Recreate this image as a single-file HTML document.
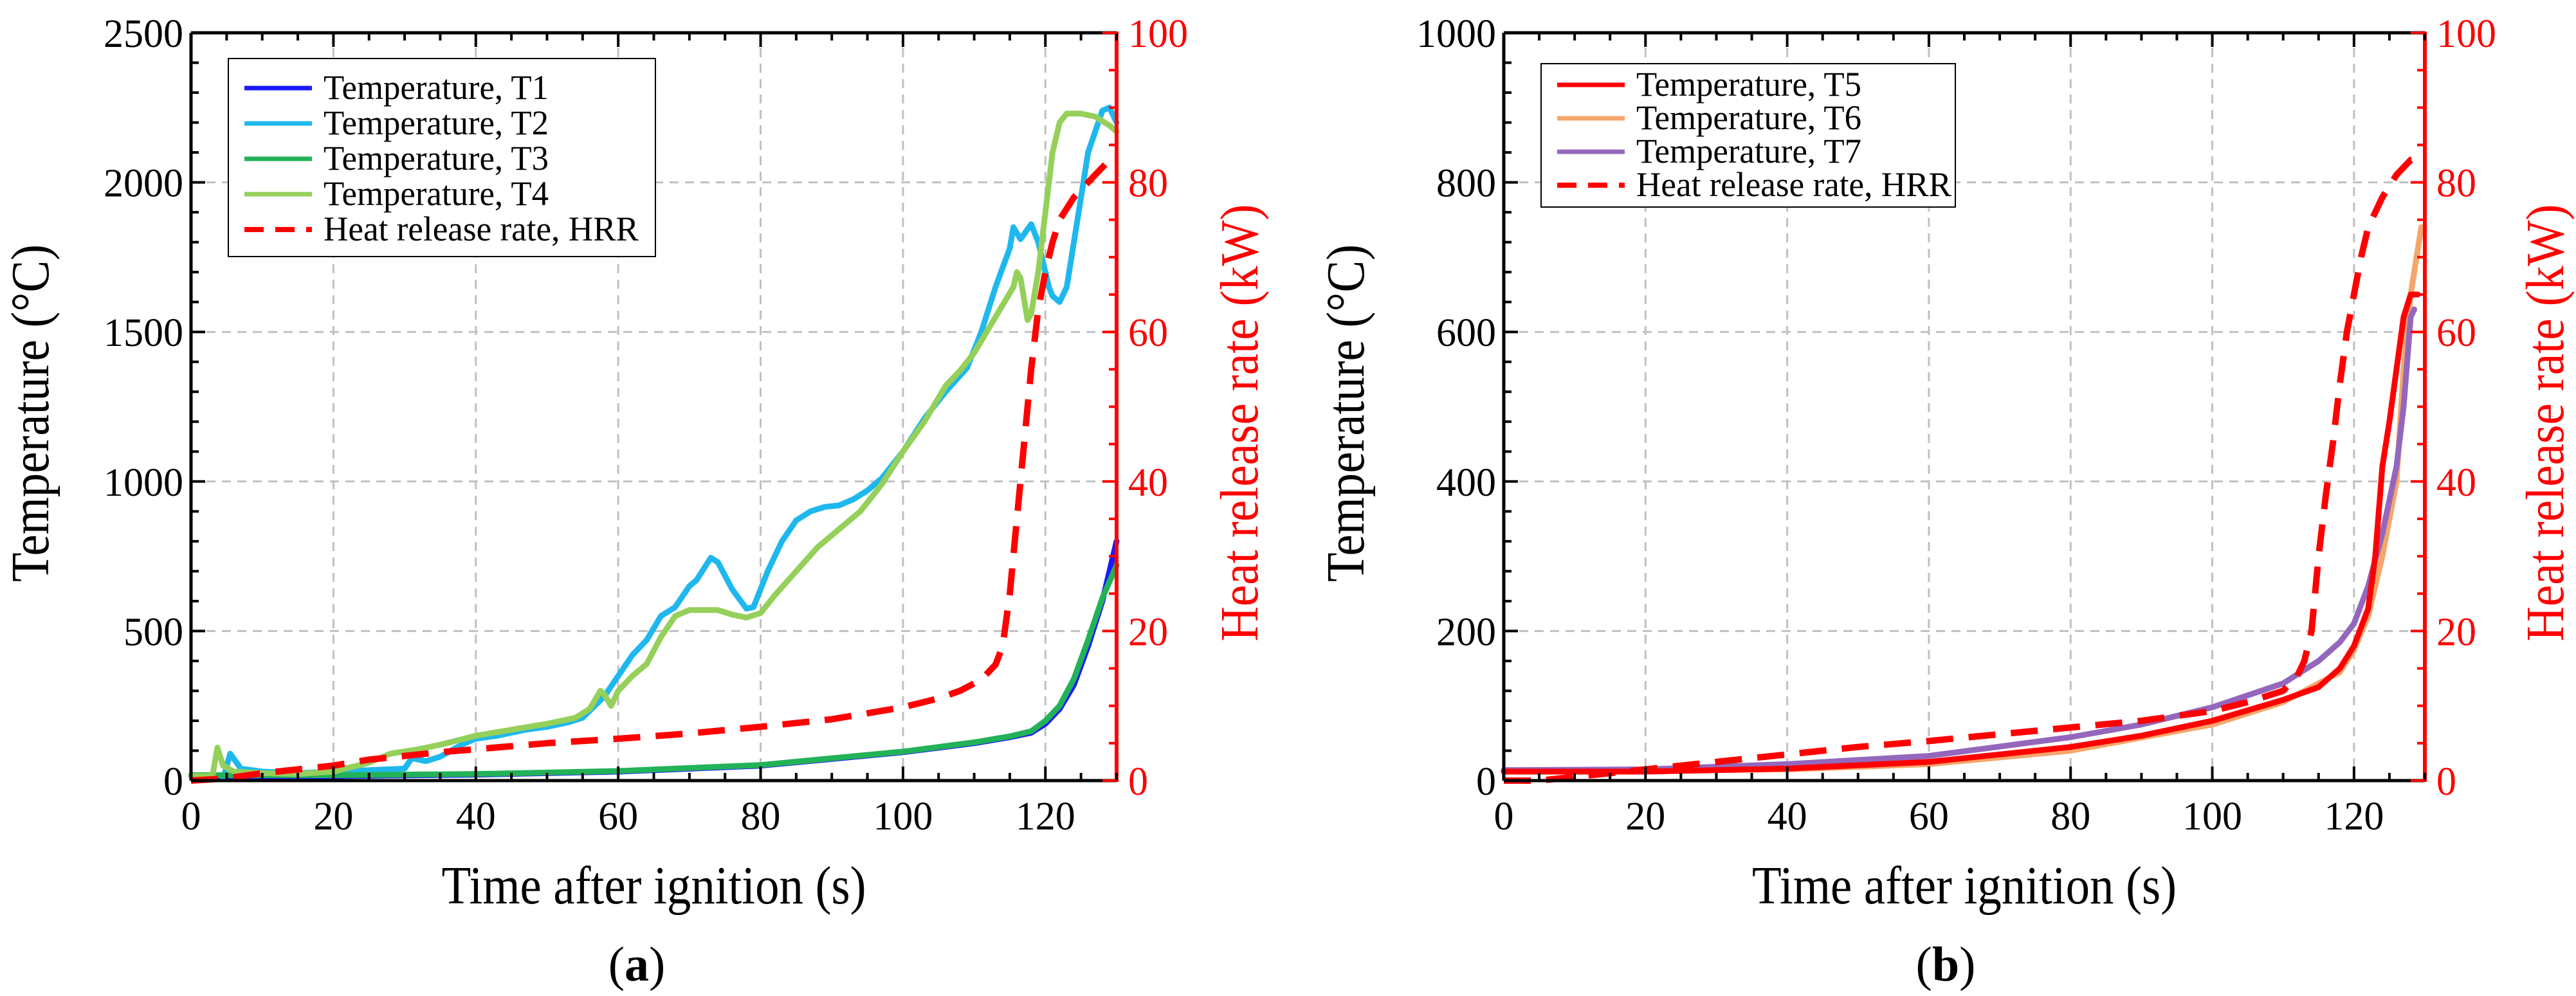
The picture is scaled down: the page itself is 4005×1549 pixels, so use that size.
<!DOCTYPE html>
<html><head><meta charset="utf-8"><style>
html,body{margin:0;padding:0;background:#fff}
svg{display:block}
svg text{font-family:"Liberation Serif","Times New Roman",Times,"Noto Serif CJK SC",serif}
</style></head><body>
<svg id="c" width="4005" height="1549" viewBox="0 0 4005 1549" xmlns="http://www.w3.org/2000/svg">
</svg>
<script>
// ---- Panel (a) data ----
const tA_T1=[0,20,40,60,80,100,110,115,118,120,122,124,126,128,130];
const vA_T1=[15,15,20,30,50,95,125,145,160,190,240,320,450,600,800];
const tA_T3=[0,20,40,60,80,100,110,115,118,120,122,124,126,128,130];
const vA_T3=[18,18,22,32,52,97,128,148,165,200,250,340,470,610,720];
const tA_T2=[4.5,5.5,7,10,15,20,25,30,31,33,35,38,40,43,47,50,53,55,58,60,62,64,66,68,70,71,73,74,76,78,79,81,83,85,87,89,91,93,95,97,100,103,106,109,111,113,115,115.5,116.5,118,119,120.5,121,122,123,124,125,126,127,128,129,130];
const vA_T2=[5,90,40,30,25,30,35,40,75,65,80,120,140,150,170,180,195,210,280,350,420,470,550,580,650,670,745,730,640,575,580,700,800,870,900,915,920,940,970,1010,1100,1210,1300,1380,1500,1650,1780,1850,1810,1860,1800,1650,1620,1600,1650,1800,1950,2100,2170,2240,2250,2200];
const tA_T4=[0,3,3.7,4.5,6,10,15,20,25,28,32,35,40,45,50,54,56,57.5,58,59,60,62,64,66,68,70,72,74,76,78,80,82,85,88,91,94,97,100,103,105,106,108,110,112,114,115.5,116,116.5,117.5,118,119,120,121,122,123,125,127,129,130];
const vA_T4=[15,15,110,50,30,25,22,30,60,90,105,120,150,170,190,210,240,300,290,250,300,350,390,480,550,570,570,570,555,545,560,620,700,780,840,900,990,1100,1200,1280,1320,1370,1430,1510,1590,1650,1700,1680,1540,1560,1700,1900,2100,2200,2230,2230,2220,2190,2170];
const tA_H=[0,5,10,15,20,25,30,35,40,50,60,70,80,90,100,105,108,111,113,114,115,116,117,118,119,120,121,122,124,126,128,129,130];
const vA_H=[0,0.3,1,1.5,2,2.8,3.3,3.8,4.2,5,5.6,6.3,7.2,8.2,9.8,11,12,13.5,15.5,18,25,35,45,55,63,68,72,75,78,80,82,83,83];
// ---- Panel (b) data ----
const tB_T5=[0,20,40,60,80,90,100,110,115,118,120,122,123,124,125,126,127,128,129];
const vB_T5=[12,12,16,25,45,60,80,108,125,150,180,230,300,420,480,550,620,650,650];
const tB_T6=[0,40,60,80,100,110,118,120,122,124,126,127,128,129.5];
const vB_T6=[12,15,22,40,75,105,145,175,220,300,400,550,650,740];
const tB_T7=[0,20,40,60,80,90,100,110,115,118,120,122,124,126,127,128,128.5];
const vB_T7=[14,15,22,33,58,75,98,130,160,185,210,260,330,420,500,620,630];
const tB_H=[0,5,10,15,20,30,40,50,60,70,80,90,100,105,110,112,113,114,115,116,117,118,119,120,121,122,124,126,128,130];
const vB_H=[0,0,0.5,1,1.5,2.5,3.5,4.5,5.3,6.2,7.1,8,9.3,10.5,12,14,16,20,30,38,45,53,60,65,70,74,78,81,83,83];
const xTicks=[0,20,40,60,80,100,120];
const yTicksA=[0,500,1000,1500,2000,2500];
const yTicksB=[0,200,400,600,800,1000];
const hTicks=[0,20,40,60,80,100];

const svg=document.getElementById('c');
const NS='http://www.w3.org/2000/svg';
const FF='"Liberation Serif","Times New Roman",Times,"Noto Serif CJK SC",serif';
function el(tag,attrs,parent){const e=document.createElementNS(NS,tag);for(const k in attrs)e.setAttribute(k,attrs[k]);(parent||svg).appendChild(e);return e;}
function txt(s,attrs,parent){const e=el('text',attrs,parent);e.style.fontFamily=FF;e.textContent=s;return e;}

function panel(cfg){
  const g=el('g',{});
  
  
  const L=cfg.x0,R=cfg.x1,T=51,B=1214;
  const sx=v=>L+(R-L)*v/130;
  const sy=v=>B-(B-T)*v/cfg.ymax;
  const sh=v=>B-(B-T)*v/100;
  const grid=el('g',{},g);
  
  
  xTicks.forEach(t=>{if(t>0)el('line',{x1:sx(t),x2:sx(t),y1:T,y2:B,stroke:'#c0c0c0','stroke-width':3,'stroke-dasharray':'14 10'},grid);});
  cfg.yt.forEach(t=>{if(t>0&&t<cfg.ymax)el('line',{x1:L,x2:R,y1:sy(t),y2:sy(t),stroke:'#c0c0c0','stroke-width':3,'stroke-dasharray':'14 10'},grid);});
  function line(ts,vs,sc,color,w,name,dash){
    const d=ts.map((t,i)=>(i?'L':'M')+sx(t).toFixed(1)+' '+sc(vs[i]).toFixed(1)).join(' ');
    const p=el('path',{d:d,fill:'none',stroke:color,'stroke-width':w,'stroke-linejoin':'round','stroke-linecap':dash?'butt':'round'},g);
    if(dash)p.setAttribute('stroke-dasharray',dash);
    
    
  }
  cfg.series.forEach(s=>line(s.t,s.v,sy,s.c,9,s.n));
  line(cfg.ht,cfg.hv,sh,'#ff0000',10,'hrr-line','42 24');
  const ax=el('g',{},g);
  
  
  el('line',{x1:L,x2:R,y1:T,y2:T,stroke:'#000','stroke-width':5},ax);
  el('line',{x1:L,x2:R,y1:B,y2:B,stroke:'#000','stroke-width':5},ax);
  el('line',{x1:L,x2:L,y1:T,y2:B,stroke:'#000','stroke-width':5},ax);
  el('line',{x1:R,x2:R,y1:T-2,y2:B+2,stroke:'#ff0000','stroke-width':6},ax);
  for(let t=0;t<=130;t+=5){const maj=t%20===0;const l=maj?22:12;
    el('line',{x1:sx(t),x2:sx(t),y1:B,y2:B-l,stroke:'#000','stroke-width':4},ax);
    el('line',{x1:sx(t),x2:sx(t),y1:T,y2:T+l,stroke:'#000','stroke-width':4},ax);}
  const ystep=cfg.ymax/25;
  for(let i=0;i<=25;i++){const v=i*ystep;const l=i%5===0?22:12;
    el('line',{x1:L,x2:L+l,y1:sy(v),y2:sy(v),stroke:'#000','stroke-width':4},ax);}
  for(let v=0;v<=100;v+=5){const l=v%20===0?22:12;
    el('line',{x1:R,x2:R-l,y1:sh(v),y2:sh(v),stroke:'#ff0000','stroke-width':4},ax);}
  xTicks.forEach(t=>txt(String(t),{x:sx(t),y:1290,'font-size':62,'text-anchor':'middle'},ax));
  cfg.yt.forEach(t=>txt(String(t),{x:L-12,y:sy(t)+22,'font-size':62,'text-anchor':'end'},ax));
  hTicks.forEach(t=>txt(String(t),{x:R+18,y:sh(t)+22,'font-size':62,fill:'#ff0000'},ax));
  const xt=txt('Time after ignition (s)',{x:(L+R)/2,y:1405,'font-size':84,'text-anchor':'middle',textLength:660,lengthAdjust:'spacingAndGlyphs'},g);
  
  const yt=txt('Temperature (°C)',{x:0,y:0,'font-size':84,'text-anchor':'middle',textLength:525,lengthAdjust:'spacingAndGlyphs',transform:`translate(${cfg.ylx},${(T+B)/2+10}) rotate(-90)`},g);
  
  const ht=txt('Heat release rate (kW)',{x:0,y:0,'font-size':84,fill:'#ff0000','text-anchor':'middle',textLength:680,lengthAdjust:'spacingAndGlyphs',transform:`translate(${cfg.yrx},${(T+B)/2+25}) rotate(-90)`},g);
  
  const pl=el('text',{x:cfg.plx,y:1525,'font-size':76,'text-anchor':'middle'},g);
  pl.style.fontFamily=FF;
  pl.innerHTML='(<tspan font-weight="bold">'+cfg.lab+'</tspan>)';
  
  const lg=el('g',{},g);
  
  
  el('rect',{x:cfg.lgx,y:cfg.lgy,width:cfg.lgw,height:cfg.lgh,fill:'#fff',stroke:'#000','stroke-width':2},lg);
  const items=cfg.legend.concat([{c:'#ff0000',l:'Heat release rate, HRR',d:1}]);
  items.forEach((it,i)=>{const y=cfg.lgy+cfg.lg0+i*cfg.lgd;
    const ln=el('line',{x1:cfg.lgx+25,x2:cfg.lgx+130,y1:y,y2:y,stroke:it.c,'stroke-width':it.d?8:7},lg);
    if(it.d)ln.setAttribute('stroke-dasharray','30 18');
    const e=txt(it.l,{x:cfg.lgx+148,y:y+17,'font-size':54,textLength:it.d?490:350,lengthAdjust:'spacingAndGlyphs'},lg);
    });
}
panel({name:'panel-a',x0:297,x1:1736,ymax:2500,yt:yTicksA,ylx:75,yrx:1955,plx:990,lab:'a',
  lgx:355,lgy:91,lgw:664,lgh:308,lg0:46,lgd:55,
  ht:tA_H,hv:vA_H,
  series:[{t:tA_T1,v:vA_T1,c:'#1a1aff',n:'t1-line'},
          {t:tA_T2,v:vA_T2,c:'#1fb8ee',n:'t2-line'},
          {t:tA_T3,v:vA_T3,c:'#22b257',n:'t3-line'},
          {t:tA_T4,v:vA_T4,c:'#95d05a',n:'t4-line'}],
  legend:[{c:'#1a1aff',l:'Temperature, T1'},{c:'#1fb8ee',l:'Temperature, T2'},{c:'#22b257',l:'Temperature, T3'},{c:'#95d05a',l:'Temperature, T4'}]});
panel({name:'panel-b',x0:2338,x1:3770,ymax:1000,yt:yTicksB,ylx:2120,yrx:3985,plx:3025,lab:'b',
  lgx:2396,lgy:99,lgw:644,lgh:223,lg0:33,lgd:52,
  ht:tB_H,hv:vB_H,
  series:[{t:tB_T6,v:vB_T6,c:'#f5a66a',n:'t6-line'},
          {t:tB_T7,v:vB_T7,c:'#9467bd',n:'t7-line'},
          {t:tB_T5,v:vB_T5,c:'#ff0000',n:'t5-line'}],
  legend:[{c:'#ff0000',l:'Temperature, T5'},{c:'#f5a66a',l:'Temperature, T6'},{c:'#9467bd',l:'Temperature, T7'}]});
</script>
</body></html>
